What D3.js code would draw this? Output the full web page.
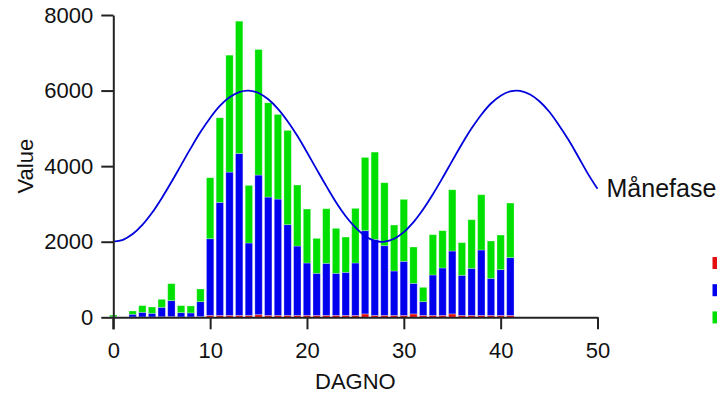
<!DOCTYPE html>
<html>
<head>
<meta charset="utf-8">
<script src="https://cdn.jsdelivr.net/npm/d3@7"></script>
<style>
  html, body { margin: 0; padding: 0; background: #fff; }
  svg { display: block; font-family: "Liberation Sans", Arial, Helvetica, sans-serif; }
</style>
</head>
<body>
<svg id="chart" width="717" height="398"></svg>
<script>
// Daily counts per DAGNO, stacked bottom to top: red, blue, green
const days  = [0, 2, 3, 4, 5, 6, 7, 8, 9, 10, 11, 12, 13, 14, 15, 16, 17, 18, 19, 20,
               21, 22, 23, 24, 25, 26, 27, 28, 29, 30, 31, 32, 33, 34, 35, 36, 37, 38, 39, 40, 41];
const redValues   = [0, 10, 10, 10, 15, 20, 10, 10, 20, 50, 50, 50, 50, 50, 70, 50, 50, 50, 50, 50,
                     50, 50, 50, 50, 50, 90, 50, 50, 50, 50, 90, 50, 50, 50, 90, 50, 50, 50, 50, 50, 50];
const blueValues  = [20, 70, 122, 96, 249, 421, 113, 105, 394, 2030, 2991, 3793, 4287, 1916, 3694, 3132, 3079, 2401, 1836, 1387,
                     1114, 1378, 1114, 1140, 1387, 2202, 2013, 1845, 1175, 1431, 809, 364, 1070, 1255, 1664, 1061, 1246, 1731, 981, 1211, 1528];
const greenValues = [40, 87, 176, 167, 212, 449, 185, 185, 335, 1613, 2239, 3094, 3500, 1525, 3323, 2495, 2239, 2494, 1614, 1428,
                     925, 1446, 1190, 934, 1446, 1939, 2309, 1666, 1217, 1640, 961, 379, 1066, 987, 1621, 864, 1287, 1463, 988, 916, 1446];

// Moon phase curve, one reading per day
const moonDays  = d3.range(0, 51);
const moonPhase = [2000, 2051, 2202, 2444, 2765, 3152, 3579, 4028, 4476, 4901, 5276, 5593, 5823, 5961, 5999, 5936, 5769,
                   5516, 5187, 4802, 4367, 3916, 3471, 3045, 2676, 2379, 2152, 2020, 2003, 2079, 2254, 2517, 2857, 3255,
                   3689, 4141, 4585, 5000, 5362, 5658, 5865, 5980, 5994, 5904, 5718, 5445, 5090, 4697, 4257, 3803, 3400];

const xTicks = [0, 10, 20, 30, 40, 50];
const yTicks = [0, 2000, 4000, 6000, 8000];
const seriesKeys = ["red", "blue", "green"];
const seriesColors = { red: "#e41010", blue: "#0000ee", green: "#00e000" };

const svg = d3.select("#chart");
const x = d3.scaleLinear().domain([0, 50]).range([113.3, 597.5]);
const y = d3.scaleLinear().domain([0, 8000]).range([317.3, 15]);

const rows = days.map((d, i) => ({ day: d, red: redValues[i], blue: blueValues[i], green: greenValues[i] }));
const stacked = d3.stack().keys(seriesKeys)(rows);
const barW = (x(1) - x(0)) * 0.76;

const bars = svg.append("g");
stacked.forEach(layer => {
  bars.append("g")
    .attr("fill", seriesColors[layer.key])
    .selectAll("rect")
    .data(layer)
    .join("rect")
    .attr("x", d => x(d.data.day) - barW / 2)
    .attr("width", barW)
    .attr("y", d => y(d[1]))
    .attr("height", d => Math.max(0, y(d[0]) - y(d[1])))
    .attr("stroke", "rgba(255,255,255,0.35)")
    .attr("stroke-width", 0.8);
});

// Moon phase line and its end label
const moonPts = moonDays.map((d, i) => [d, moonPhase[i]]);
svg.append("path")
  .datum(moonPts)
  .attr("fill", "none")
  .attr("stroke", "#0000dd")
  .attr("stroke-width", 1.8)
  .attr("d", d3.line().x(d => x(d[0])).y(d => y(d[1])).curve(d3.curveCatmullRom));
const last = moonPts[moonPts.length - 1];
svg.append("text")
  .attr("x", x(last[0]) + 9)
  .attr("y", y(last[1]) + 8)
  .attr("font-size", 25)
  .attr("fill", "#111")
  .text("Månefase");

// Axes
const fmt = d3.format("d");
const xAxis = svg.append("g")
  .attr("transform", `translate(0,${y(0)})`)
  .call(d3.axisBottom(x).tickValues(xTicks).tickFormat(fmt).tickSize(12).tickPadding(13).tickSizeOuter(0));
const yAxis = svg.append("g")
  .attr("transform", `translate(${x(0)},0)`)
  .call(d3.axisLeft(y).tickValues(yTicks).tickFormat(fmt).tickSize(12).tickPadding(8).tickSizeOuter(0));
[xAxis, yAxis].forEach(g => {
  g.select(".domain").attr("stroke", "#222").attr("stroke-width", 2);
  g.selectAll(".tick line").attr("stroke", "#222").attr("stroke-width", 2);
  g.selectAll(".tick text").attr("font-size", 22).attr("fill", "#111")
    .attr("font-family", "'Liberation Sans', Arial, sans-serif");
});
// y axis line continues down to the x tick length
svg.append("line")
  .attr("x1", x(0)).attr("x2", x(0))
  .attr("y1", y(0)).attr("y2", y(0) + 12)
  .attr("stroke", "#222").attr("stroke-width", 2);

svg.append("text")
  .attr("x", (x(0) + x(50)) / 2)
  .attr("y", 389)
  .attr("text-anchor", "middle")
  .attr("font-size", 22)
  .attr("fill", "#111")
  .text("DAGNO");
svg.append("text")
  .attr("transform", `translate(33,${(y(0) + y(8000)) / 2}) rotate(-90)`)
  .attr("text-anchor", "middle")
  .attr("font-size", 22)
  .attr("fill", "#111")
  .text("Value");

// Legend swatches at the right edge
const legend = svg.append("g").attr("transform", "translate(712.5,257)");
seriesKeys.forEach((k, i) => {
  legend.append("rect")
    .attr("x", 0).attr("y", i * 27.2)
    .attr("width", 12).attr("height", 12)
    .attr("fill", seriesColors[k]);
});
</script>
</body>
</html>
